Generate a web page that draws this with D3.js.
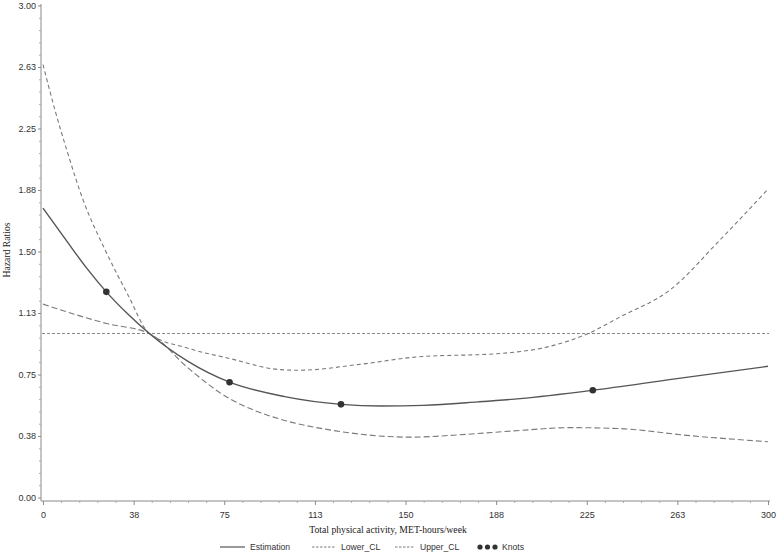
<!DOCTYPE html>
<html>
<head>
<meta charset="utf-8">
<script src="https://cdn.jsdelivr.net/npm/d3@7"></script>
<style>
  html, body { margin: 0; padding: 0; background: #fff; }
  svg { display: block; }
  .tick text { font-family: "Liberation Sans", Arial, sans-serif; font-size: 9px; fill: #333; }
</style>
</head>
<body>
<svg id="chart" width="778" height="553"></svg>
<script>
// ---- Data ----
const estX = [0, 10, 18, 26.2, 35, 44, 60, 77.2, 100, 123.3, 140, 157.4, 180, 197.4, 227.5, 260, 300];
const estY = [1.764, 1.56, 1.40, 1.254, 1.12, 1.0, 0.83, 0.703, 0.615, 0.568, 0.558, 0.562, 0.583, 0.603, 0.654, 0.72, 0.80];

const lowerX = [0, 26.3, 44, 60, 76, 85.7, 100, 120, 151.9, 175, 197.4, 218, 238.8, 266.3, 300];
const lowerY = [1.179, 1.061, 1.0, 0.79, 0.613, 0.542, 0.47, 0.409, 0.368, 0.385, 0.409, 0.426, 0.42, 0.379, 0.34];

const upperX = [0, 5, 9.8, 16.7, 25.7, 35, 44, 60, 77.4, 98, 106.3, 130, 154.6, 189, 209.8, 225.6, 238.8, 259.4, 280.1, 300];
const upperY = [2.64, 2.36, 2.12, 1.81, 1.51, 1.24, 1.0, 0.91, 0.847, 0.78, 0.776, 0.81, 0.857, 0.878, 0.922, 1.0, 1.101, 1.265, 1.57, 1.88];

const knotX = [26.2, 77.2, 123.3, 227.5];
const knotY = [1.254, 0.703, 0.568, 0.654];

const refValue = 1.0;

const xTickValues = [0, 37.5, 75, 112.5, 150, 187.5, 225, 262.5, 300];
const xTickLabels = ["0", "38", "75", "113", "150", "188", "225", "263", "300"];
const yTickValues = [0, 0.375, 0.75, 1.125, 1.5, 1.875, 2.25, 2.625, 3.0];
const yTickLabels = ["0.00", "0.38", "0.75", "1.13", "1.50", "1.88", "2.25", "2.63", "3.00"];

const legendNames = ["Estimation", "Lower_CL", "Upper_CL", "Knots"];
const xTitle = "Total physical activity, MET-hours/week";
const yTitle = "Hazard Ratios";

// ---- Layout ----
const svg = d3.select("#chart");
const axisX0 = 41, axisY0 = 501;
const x = d3.scaleLinear().domain([0, 300]).range([43, 768]);
const y = d3.scaleLinear().domain([0, 3]).range([497.5, 5.5]);

function minorTicks(major) {
  const out = [];
  for (let i = 0; i < major.length - 1; i++) {
    const step = (major[i + 1] - major[i]) / 5;
    for (let k = 1; k < 5; k++) out.push(major[i] + k * step);
  }
  return out;
}

// axis lines
svg.append("line").attr("x1", axisX0).attr("x2", axisX0).attr("y1", 4).attr("y2", axisY0)
  .attr("stroke", "#8a8a8a").attr("stroke-width", 1);
svg.append("line").attr("x1", axisX0).attr("x2", 770).attr("y1", axisY0).attr("y2", axisY0)
  .attr("stroke", "#8a8a8a").attr("stroke-width", 1);

// Y axis
const yAxis = d3.axisLeft(y).tickValues(yTickValues)
  .tickFormat((d, i) => yTickLabels[i]).tickSize(3).tickPadding(2);
const gy = svg.append("g").attr("transform", `translate(${axisX0},0)`).call(yAxis);
gy.select(".domain").remove();
gy.selectAll(".tick line").attr("stroke", "#8a8a8a");
const gyMinor = svg.append("g").attr("transform", `translate(${axisX0},0)`)
  .call(d3.axisLeft(y).tickValues(minorTicks(yTickValues)).tickSize(2).tickFormat(""));
gyMinor.select(".domain").remove();
gyMinor.selectAll(".tick line").attr("stroke", "#aaa");

// X axis
const xAxis = d3.axisBottom(x).tickValues(xTickValues)
  .tickFormat((d, i) => xTickLabels[i]).tickSize(4).tickPadding(7);
const gx = svg.append("g").attr("transform", `translate(0,${axisY0})`).call(xAxis);
gx.select(".domain").remove();
gx.selectAll(".tick line").attr("stroke", "#8a8a8a");
const gxMinor = svg.append("g").attr("transform", `translate(0,${axisY0})`)
  .call(d3.axisBottom(x).tickValues(minorTicks(xTickValues)).tickSize(2).tickFormat(""));
gxMinor.select(".domain").remove();
gxMinor.selectAll(".tick line").attr("stroke", "#aaa");

// titles
svg.append("text").attr("x", 388).attr("y", 532.5).attr("text-anchor", "middle")
  .attr("font-family", "'Liberation Serif', 'Times New Roman', serif").attr("font-size", 9.7)
  .attr("fill", "#222").text(xTitle);
svg.append("text").attr("transform", "translate(10,250) rotate(-90)").attr("text-anchor", "middle")
  .attr("font-family", "'Liberation Serif', 'Times New Roman', serif").attr("font-size", 9.7)
  .attr("fill", "#222").text(yTitle);

// reference line
svg.append("line").attr("x1", axisX0 + 1).attr("x2", 769)
  .attr("y1", y(refValue)).attr("y2", y(refValue))
  .attr("stroke", "#888").attr("stroke-width", 1).attr("stroke-dasharray", "3,2");

const line = d3.line().x(d => x(d[0])).y(d => y(d[1])).curve(d3.curveMonotoneX);
const zip = (a, b) => a.map((v, i) => [v, b[i]]);

svg.append("path").datum(zip(lowerX, lowerY)).attr("d", line)
  .attr("fill", "none").attr("stroke", "#7a7a7a").attr("stroke-width", 1.1)
  .attr("stroke-dasharray", "6,3");
svg.append("path").datum(zip(upperX, upperY)).attr("d", line)
  .attr("fill", "none").attr("stroke", "#7a7a7a").attr("stroke-width", 1.1)
  .attr("stroke-dasharray", "4,3");
svg.append("path").datum(zip(estX, estY)).attr("d", line)
  .attr("fill", "none").attr("stroke", "#555").attr("stroke-width", 1.4);

svg.append("g").selectAll("circle").data(zip(knotX, knotY)).join("circle")
  .attr("cx", d => x(d[0])).attr("cy", d => y(d[1])).attr("r", 3.3).attr("fill", "#333");

// legend
const ly = 547;
const lg = svg.append("g").attr("font-family", "'Liberation Sans', Arial, sans-serif")
  .attr("font-size", 8.6).attr("fill", "#333");
lg.append("line").attr("x1", 220).attr("x2", 245).attr("y1", ly).attr("y2", ly)
  .attr("stroke", "#555").attr("stroke-width", 1.2);
lg.append("text").attr("x", 250).attr("y", ly + 3).text(legendNames[0]);
lg.append("line").attr("x1", 312).attr("x2", 335).attr("y1", ly).attr("y2", ly)
  .attr("stroke", "#7a7a7a").attr("stroke-width", 1).attr("stroke-dasharray", "2.5,1.5");
lg.append("text").attr("x", 341).attr("y", ly + 3).text(legendNames[1]);
lg.append("line").attr("x1", 395).attr("x2", 415).attr("y1", ly).attr("y2", ly)
  .attr("stroke", "#7a7a7a").attr("stroke-width", 1).attr("stroke-dasharray", "2.5,1.5");
lg.append("text").attr("x", 420).attr("y", ly + 3).text(legendNames[2]);
[480, 487.5, 495].forEach(cx => lg.append("circle").attr("cx", cx).attr("cy", ly).attr("r", 2.6).attr("fill", "#333"));
lg.append("text").attr("x", 502).attr("y", ly + 3).text(legendNames[3]);
</script>
</body>
</html>
